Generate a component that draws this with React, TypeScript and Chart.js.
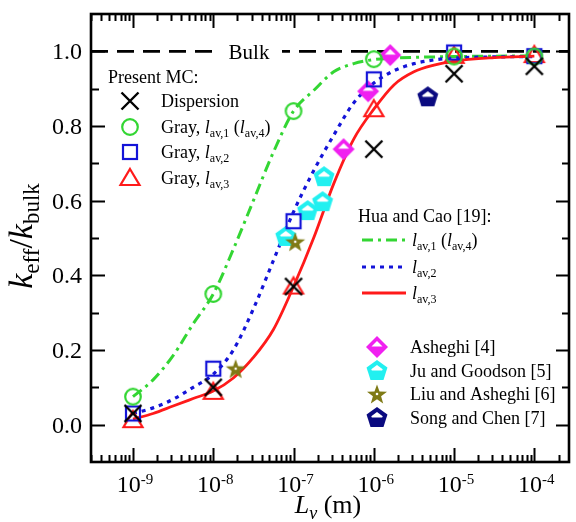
import React, { useEffect, useRef } from "react";
import { Chart, registerables } from "chart.js";

Chart.register(...registerables);

const FONT = "'Liberation Serif', 'Times New Roman', serif";

// ---- Hua and Cao [19] model curves ----
const curveX = [1e-9, 1.78e-9, 3.16e-9, 5.62e-9, 1e-8, 1.78e-8, 3.16e-8, 5.62e-8, 1e-7, 1.78e-7, 3.16e-7, 5.62e-7, 1e-6, 1.78e-6, 3.16e-6, 5.62e-6, 1e-5, 3.16e-5, 1e-4];
const huaCaoLav1 = [0.075, 0.12, 0.185, 0.27, 0.35, 0.47, 0.6, 0.73, 0.84, 0.895, 0.945, 0.967, 0.978, 0.982, 0.984, 0.985, 0.986, 0.987, 0.988];
const huaCaoLav2 = [0.03, 0.045, 0.068, 0.1, 0.135, 0.2, 0.31, 0.44, 0.57, 0.68, 0.775, 0.862, 0.915, 0.948, 0.967, 0.977, 0.982, 0.985, 0.986];
const huaCaoLav3 = [0.015, 0.03, 0.05, 0.07, 0.09, 0.125, 0.18, 0.255, 0.37, 0.5, 0.645, 0.765, 0.845, 0.91, 0.945, 0.963, 0.974, 0.983, 0.987];

// ---- Present MC ----
const mcX = [1e-9, 1e-8, 1e-7, 1e-6, 1e-5, 1e-4];
const mcDispersion = [0.03, 0.1, 0.37, 0.738, 0.94, 0.96];
const mcGrayLav1 = [0.075, 0.35, 0.84, 0.979, 0.986, 0.986];
const mcGrayLav2 = [0.03, 0.15, 0.545, 0.925, 0.997, 0.987];
const mcGrayLav3 = [0.012, 0.088, 0.37, 0.845, 0.988, 0.99];

// ---- Experiments ----
const asheghiX = [4.2e-7, 8.5e-7, 1.6e-6];
const asheghiY = [0.738, 0.893, 0.99];
const juGoodsonX = [8e-8, 1.5e-7, 2.3e-7, 2.4e-7];
const juGoodsonY = [0.503, 0.572, 0.596, 0.663];
const liuAsheghiX = [1.9e-8, 1.05e-7];
const liuAsheghiY = [0.15, 0.49];
const songChenX = [4.7e-6];
const songChenY = [0.877];

// ---- Axes ----
const xMin = 3e-10;
const xMax = 2.7e-4;
const yMin = -0.1;
const yMax = 1.1;
const xDecadeExponents = [-9, -8, -7, -6, -5, -4];
const yMajorTicks = [0, 0.2, 0.4, 0.6, 0.8, 1.0];
const yMinorTicks = [0.1, 0.3, 0.5, 0.7, 0.9];
const yTickLabels = ["0.0", "0.2", "0.4", "0.6", "0.8", "1.0"];
const bulkValue = 1.0;

const C_GREEN = "#33d633";
const C_BLUE = "#1414d8";
const C_RED = "#ff1a1a";
const C_MAGENTA = "#f020f0";
const C_CYAN = "#22f0f0";
const C_OLIVE = "#7f7a16";
const C_NAVY = "#0a0a80";

function poly(g: CanvasRenderingContext2D, pts: number[][]) {
  g.beginPath();
  pts.forEach((p, i) => (i === 0 ? g.moveTo(p[0], p[1]) : g.lineTo(p[0], p[1])));
  g.closePath();
}

function regular(m: number, r: number, n: number, rot = -Math.PI / 2): number[][] {
  const out: number[][] = [];
  for (let i = 0; i < n; i++) {
    const a = rot + (i * 2 * Math.PI) / n;
    out.push([m + r * Math.cos(a), m + r * Math.sin(a)]);
  }
  return out;
}

function makeMarker(kind: string, color: string): HTMLCanvasElement {
  const s = 26;
  const c = document.createElement("canvas");
  c.width = s;
  c.height = s;
  const g = c.getContext("2d")!;
  const m = s / 2;
  g.lineJoin = "miter";
  g.strokeStyle = color;
  g.fillStyle = color;
  if (kind === "x") {
    g.lineWidth = 2.4;
    g.beginPath();
    g.moveTo(m - 8.5, m - 8.5);
    g.lineTo(m + 8.5, m + 8.5);
    g.moveTo(m + 8.5, m - 8.5);
    g.lineTo(m - 8.5, m + 8.5);
    g.stroke();
  } else if (kind === "circle") {
    g.lineWidth = 2.2;
    g.beginPath();
    g.arc(m, m, 7.8, 0, Math.PI * 2);
    g.stroke();
  } else if (kind === "square") {
    g.lineWidth = 2.2;
    g.strokeRect(m - 7, m - 7, 14, 14);
  } else if (kind === "triangle") {
    g.lineWidth = 2.2;
    poly(g, [[m, m - 9], [m + 9.5, m + 7], [m - 9.5, m + 7]]);
    g.stroke();
  } else if (kind === "diamond") {
    poly(g, [[m, m - 11], [m + 11, m], [m, m + 11], [m - 11, m]]);
    g.fill();
    g.fillStyle = "#fff";
    poly(g, [[m, m - 6], [m + 5.5, m - 0.5], [m - 5.5, m - 0.5]]);
    g.fill();
  } else if (kind === "pentagon") {
    poly(g, regular(m, 11, 5));
    g.fill();
    g.save();
    g.beginPath();
    g.rect(0, 0, s, m - 0.5);
    g.clip();
    g.fillStyle = "#fff";
    poly(g, regular(m, 6, 5));
    g.fill();
    g.restore();
  } else if (kind === "star") {
    const pts: number[][] = [];
    for (let i = 0; i < 10; i++) {
      const r = i % 2 === 0 ? 10.5 : 4.3;
      const a = -Math.PI / 2 + (i * Math.PI) / 5;
      pts.push([m + r * Math.cos(a), m + 1 + r * Math.sin(a)]);
    }
    poly(g, pts);
    g.fill();
    g.fillStyle = "#fff";
    g.beginPath();
    g.arc(m, m, 1.3, 0, Math.PI * 2);
    g.fill();
  }
  return c;
}

type Seg = { t: string; size: number; italic?: boolean; dy?: number };

function segFont(s: Seg) {
  return `${s.italic ? "italic " : ""}${s.size}px ${FONT}`;
}

function drawRich(g: CanvasRenderingContext2D, x: number, y: number, segs: Seg[], align: "left" | "center" | "right" = "left") {
  let w = 0;
  segs.forEach((s) => {
    g.font = segFont(s);
    w += g.measureText(s.t).width;
  });
  let cx = align === "center" ? x - w / 2 : align === "right" ? x - w : x;
  g.textAlign = "left";
  g.textBaseline = "alphabetic";
  segs.forEach((s) => {
    g.font = segFont(s);
    g.fillText(s.t, cx, y + (s.dy || 0));
    cx += g.measureText(s.t).width;
  });
}

function lavLabel(prefix: string, sub: string, extraSub?: string): Seg[] {
  const segs: Seg[] = [];
  if (prefix) segs.push({ t: prefix, size: 18 });
  segs.push({ t: "l", size: 18, italic: true }, { t: "av," + sub, size: 12, dy: 4 });
  if (extraSub) {
    segs.push({ t: " (", size: 18 }, { t: "l", size: 18, italic: true }, { t: "av," + extraSub, size: 12, dy: 4 }, { t: ")", size: 18 });
  }
  return segs;
}

const pts = (xs: number[], ys: number[]) => xs.map((x, i) => ({ x, y: ys[i] }));

export default function App() {
  const ref = useRef<HTMLCanvasElement>(null);

  useEffect(() => {
    const mk = {
      x: makeMarker("x", "#000"),
      circle: makeMarker("circle", C_GREEN),
      square: makeMarker("square", C_BLUE),
      triangle: makeMarker("triangle", C_RED),
      diamond: makeMarker("diamond", C_MAGENTA),
      penCyan: makeMarker("pentagon", C_CYAN),
      star: makeMarker("star", C_OLIVE),
      penNavy: makeMarker("pentagon", C_NAVY),
    };

    const markerDs = (label: string, data: any[], style: HTMLCanvasElement) => ({
      label,
      data,
      pointStyle: style,
      pointRadius: 6,
      showLine: false,
      borderColor: "#000",
      backgroundColor: "#000",
    });

    const lineDs = (label: string, data: any[], color: string, dash: number[], width: number) => ({
      label,
      data,
      showLine: true,
      pointRadius: 0,
      borderColor: color,
      borderWidth: width,
      borderDash: dash,
      cubicInterpolationMode: "monotone" as const,
      fill: false,
    });

    const framePlugin = {
      id: "framePlugin",
      beforeDraw(chart: any) {
        const g = chart.ctx;
        g.save();
        g.fillStyle = "#fff";
        g.fillRect(0, 0, chart.width, chart.height);
        g.restore();
      },
      afterDatasetsDraw(chart: any) {
        const g: CanvasRenderingContext2D = chart.ctx;
        const { left, right, top, bottom } = chart.chartArea;
        const xs = chart.scales.x;
        const ys = chart.scales.y;
        g.save();

        // "Bulk" label with white box
        const bulkY = ys.getPixelForValue(bulkValue);
        g.fillStyle = "#fff";
        g.fillRect(215, bulkY - 12, 67, 24);
        g.fillStyle = "#000";
        g.font = `21px ${FONT}`;
        g.textAlign = "center";
        g.textBaseline = "alphabetic";
        g.fillText("Bulk", 249, bulkY + 8);

        // Frame
        g.strokeStyle = "#000";
        g.lineWidth = 2.6;
        g.strokeRect(left, top, right - left, bottom - top);

        // X ticks (major + minor) top and bottom, inward; Y ticks left and right
        g.lineWidth = 2;
        g.beginPath();
        const startExp = Math.floor(Math.log10(xMin));
        const endExp = Math.ceil(Math.log10(xMax));
        for (let e = startExp; e <= endExp; e++) {
          for (let k = 1; k <= 9; k++) {
            const v = k * Math.pow(10, e);
            if (v < xMin || v > xMax) continue;
            const px = Math.round(xs.getPixelForValue(v)) + 0.5;
            const len = k === 1 ? 14 : 7;
            g.moveTo(px, bottom);
            g.lineTo(px, bottom - len);
            g.moveTo(px, top);
            g.lineTo(px, top + len);
          }
        }
        yMajorTicks.forEach((v) => {
          const py = Math.round(ys.getPixelForValue(v)) + 0.5;
          g.moveTo(left, py);
          g.lineTo(left + 14, py);
          g.moveTo(right, py);
          g.lineTo(right - 13, py);
        });
        yMinorTicks.forEach((v) => {
          const py = Math.round(ys.getPixelForValue(v)) + 0.5;
          g.moveTo(left, py);
          g.lineTo(left + 8, py);
          g.moveTo(right, py);
          g.lineTo(right - 7, py);
        });
        g.stroke();

        // Y tick labels
        g.fillStyle = "#000";
        g.font = `24px ${FONT}`;
        g.textAlign = "right";
        g.textBaseline = "alphabetic";
        yMajorTicks.forEach((v, i) => {
          g.fillText(yTickLabels[i], left - 9, ys.getPixelForValue(v) + 8);
        });

        // X tick labels 10^n
        xDecadeExponents.forEach((e) => {
          const px = xs.getPixelForValue(Math.pow(10, e));
          drawRich(g, px + 2, bottom + 30, [
            { t: "10", size: 24 },
            { t: "-" + Math.abs(e), size: 15, dy: -8 },
          ], "center");
        });

        // Axis titles
        drawRich(g, (left + right) / 2 - 2, 513, [
          { t: "L", size: 26, italic: true },
          { t: "v", size: 18, italic: true, dy: 6 },
          { t: " (m)", size: 26 },
        ], "center");

        g.save();
        g.translate(32, 236);
        g.rotate(-Math.PI / 2);
        drawRich(g, 0, 0, [
          { t: "k", size: 34, italic: true },
          { t: "eff", size: 23, dy: 7 },
          { t: "/", size: 34 },
          { t: "k", size: 34, italic: true },
          { t: "bulk", size: 23, dy: 7 },
        ], "center");
        g.restore();

        // Legend: Present MC
        g.fillStyle = "#000";
        g.font = `18px ${FONT}`;
        g.textAlign = "left";
        g.fillText("Present MC:", 108, 83);
        const leg1: [HTMLCanvasElement, Seg[], number][] = [
          [mk.x, [{ t: "Dispersion", size: 18 }], 101],
          [mk.circle, lavLabel("Gray, ", "1", "4"), 127],
          [mk.square, lavLabel("Gray, ", "2"), 152],
          [mk.triangle, lavLabel("Gray, ", "3"), 178],
        ];
        leg1.forEach(([img, segs, y]) => {
          g.drawImage(img, 130 - img.width / 2, y - img.height / 2);
          g.fillStyle = "#000";
          drawRich(g, 161, y + 6, segs);
        });

        // Legend: Hua and Cao
        g.font = `18px ${FONT}`;
        g.fillStyle = "#000";
        g.textAlign = "left";
        g.fillText("Hua and Cao [19]:", 358, 222);
        const leg2: [string, number[], number, Seg[], number][] = [
          [C_GREEN, [11, 5, 3, 5], 3, lavLabel("", "1", "4"), 240],
          [C_BLUE, [4, 5], 3.2, lavLabel("", "2"), 267],
          [C_RED, [], 2.8, lavLabel("", "3"), 293],
        ];
        leg2.forEach(([col, dash, w, segs, y]) => {
          g.strokeStyle = col;
          g.lineWidth = w;
          g.setLineDash(dash);
          g.beginPath();
          g.moveTo(362, y);
          g.lineTo(406, y);
          g.stroke();
          g.setLineDash([]);
          g.fillStyle = "#000";
          drawRich(g, 412, y + 6, segs);
        });

        // Legend: experiments
        const leg3: [HTMLCanvasElement, string, number][] = [
          [mk.diamond, "Asheghi [4]", 347],
          [mk.penCyan, "Ju and Goodson [5]", 371],
          [mk.star, "Liu and Asheghi [6]", 394],
          [mk.penNavy, "Song and Chen [7]", 418],
        ];
        leg3.forEach(([img, text, y]) => {
          g.drawImage(img, 377 - img.width / 2, y - img.height / 2);
          g.fillStyle = "#000";
          g.font = `18px ${FONT}`;
          g.textAlign = "left";
          g.fillText(text, 410, y + 6);
        });

        g.restore();
      },
    };

    const chart = new Chart(ref.current!, {
      type: "scatter",
      data: {
        datasets: [
          markerDs("Dispersion", pts(mcX, mcDispersion), mk.x),
          markerDs("Gray lav1", pts(mcX, mcGrayLav1), mk.circle),
          markerDs("Gray lav2", pts(mcX, mcGrayLav2), mk.square),
          markerDs("Gray lav3", pts(mcX, mcGrayLav3), mk.triangle),
          markerDs("Song and Chen [7]", pts(songChenX, songChenY), mk.penNavy),
          markerDs("Liu and Asheghi [6]", pts(liuAsheghiX, liuAsheghiY), mk.star),
          markerDs("Ju and Goodson [5]", pts(juGoodsonX, juGoodsonY), mk.penCyan),
          markerDs("Asheghi [4]", pts(asheghiX, asheghiY), mk.diamond),
          lineDs("Hua lav3", pts(curveX, huaCaoLav3), C_RED, [], 2.8),
          lineDs("Hua lav2", pts(curveX, huaCaoLav2), C_BLUE, [4, 5], 3.2),
          lineDs("Hua lav1", pts(curveX, huaCaoLav1), C_GREEN, [11, 5, 3, 5], 3),
          lineDs("Bulk", [{ x: xMin, y: bulkValue }, { x: xMax, y: bulkValue }], "#000", [17, 9], 2.6),
        ] as any,
      },
      options: {
        animation: false,
        responsive: false,
        devicePixelRatio: 1,
        layout: { padding: { left: 91, right: 3, top: 14, bottom: 60 } },
        plugins: { legend: { display: false }, tooltip: { enabled: false } },
        events: [],
        scales: {
          x: { type: "logarithmic", min: xMin, max: xMax, display: false },
          y: { type: "linear", min: yMin, max: yMax, display: false },
        },
      },
      plugins: [framePlugin],
    });
    return () => chart.destroy();
  }, []);

  return (
    <div style={{ position: "fixed", left: 0, top: 0, width: 576, height: 522, background: "#fff" }}>
      <canvas ref={ref} width={576} height={522} style={{ display: "block" }} />
    </div>
  );
}
